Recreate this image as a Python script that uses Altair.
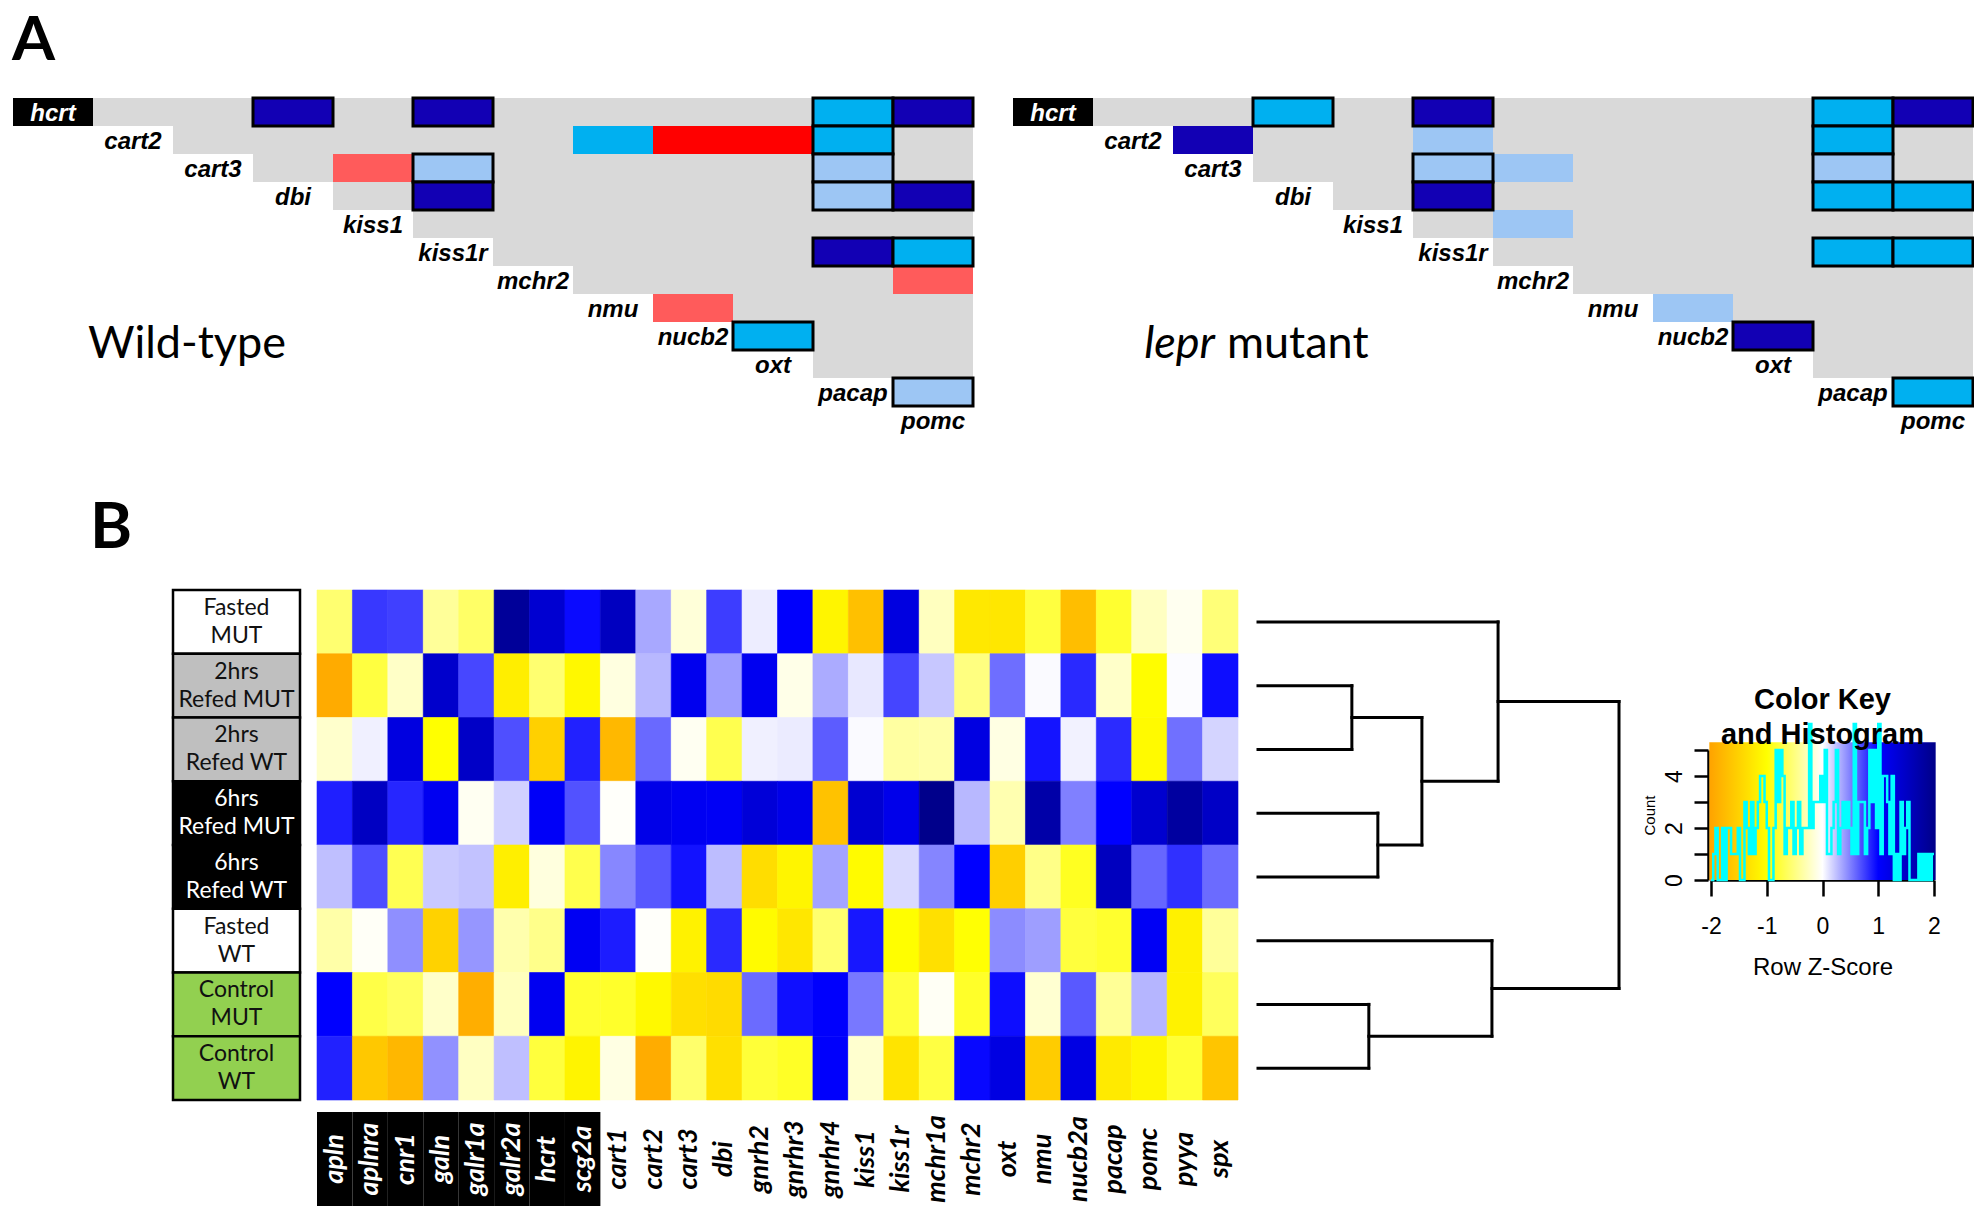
import altair as alt
import numpy as np
import pandas as pd

W, H = 1966, 1198

# ---------------- Panel A: correlation triangles ----------------
genes_a = ["hcrt", "cart2", "cart3", "dbi", "kiss1", "kiss1r", "mchr2",
           "nmu", "nucb2", "oxt", "pacap", "pomc"]

# (row gene, column gene, colour class, outlined)
wt_cells = [
    ("hcrt", "dbi", "dark", True), ("hcrt", "kiss1r", "dark", True),
    ("hcrt", "pacap", "cyan", True), ("hcrt", "pomc", "dark", True),
    ("cart2", "nmu", "cyan", False), ("cart2", "nucb2", "red", False),
    ("cart2", "oxt", "red", False), ("cart2", "pacap", "cyan", True),
    ("cart3", "kiss1", "lightred", False), ("cart3", "kiss1r", "light", True),
    ("cart3", "pacap", "light", True),
    ("dbi", "kiss1r", "dark", True), ("dbi", "pacap", "light", True),
    ("dbi", "pomc", "dark", True),
    ("kiss1r", "pacap", "dark", True), ("kiss1r", "pomc", "cyan", True),
    ("mchr2", "pomc", "lightred", False),
    ("nmu", "nucb2", "lightred", False),
    ("nucb2", "oxt", "cyan", True),
    ("pacap", "pomc", "light", True),
]
mut_cells = [
    ("hcrt", "dbi", "cyan", True), ("hcrt", "kiss1r", "dark", True),
    ("hcrt", "pacap", "cyan", True), ("hcrt", "pomc", "dark", True),
    ("cart2", "cart3", "dark", False), ("cart2", "kiss1r", "light", False),
    ("cart2", "pacap", "cyan", True),
    ("cart3", "kiss1r", "light", True), ("cart3", "mchr2", "light", False),
    ("cart3", "pacap", "light", True),
    ("dbi", "kiss1r", "dark", True), ("dbi", "pacap", "cyan", True),
    ("dbi", "pomc", "cyan", True),
    ("kiss1", "mchr2", "light", False),
    ("kiss1r", "pacap", "cyan", True), ("kiss1r", "pomc", "cyan", True),
    ("nmu", "nucb2", "light", False),
    ("nucb2", "oxt", "dark", True),
    ("pacap", "pomc", "cyan", True),
]
kind_domain = ["dark", "cyan", "light", "red", "lightred"]
kind_colors = ["#1200B4", "#00B0F0", "#9DC6F4", "#FF0000", "#FF5B5B"]

# ---------------- Panel B: heatmap ----------------
genes_b = ["apln", "aplnra", "cnr1", "galn", "galr1a", "galr2a", "hcrt", "scg2a",
           "cart1", "cart2", "cart3", "dbi", "gnrh2", "gnrhr3", "gnrhr4", "kiss1",
           "kiss1r", "mchr1a", "mchr2", "oxt", "nmu", "nucb2a", "pacap", "pomc",
           "pyya", "spx"]
highlighted_b = ["apln", "aplnra", "cnr1", "galn", "galr1a", "galr2a", "hcrt", "scg2a"]

conditions = ["Fasted MUT", "2hrs Refed MUT", "2hrs Refed WT", "6hrs Refed MUT",
              "6hrs Refed WT", "Fasted WT", "Control MUT", "Control WT"]
condition_text = ["Fasted\nMUT", "2hrs\nRefed MUT", "2hrs\nRefed WT", "6hrs\nRefed MUT",
                  "6hrs\nRefed WT", "Fasted\nWT", "Control\nMUT", "Control\nWT"]
condition_group = ["Fasted", "2hrs", "2hrs", "6hrs", "6hrs", "Fasted", "Control", "Control"]
group_domain = ["Fasted", "2hrs", "6hrs", "Control"]
group_fill = ["#FFFFFF", "#BFBFBF", "#000000", "#92D050"]

z_fasted_mut = [-0.56, 0.78, 0.75, -0.40, -0.60, 1.88, 1.40, 0.96, 1.54, 0.34, -0.15, 0.76, 0.07,
                1.03, -1.11, -1.70, 1.27, -0.25, -1.26, -1.27, -0.75, -1.72, -0.81, -0.24, -0.06, -0.53]
z_2h_mut = [-1.93, -0.75, -0.22, 1.44, 0.72, -1.19, -0.56, -1.08, -0.12, 0.28, 1.15, 0.38, 1.13,
            -0.09, 0.33, 0.09, 0.73, 0.22, -0.50, 0.57, 0.02, 0.84, -0.21, -1.02, 0.01, 0.95]
z_2h_wt = [-0.20, 0.06, 1.27, -1.00, 1.48, 0.69, -1.52, 0.87, -1.79, 0.59, -0.05, -0.69, 0.06,
           0.08, 0.64, 0.02, -0.37, -0.34, 1.26, -0.11, 0.92, 0.05, 0.83, -1.06, 0.56, 0.17]
z_6h_mut = [0.88, 1.53, 0.85, 1.12, -0.05, 0.18, 1.06, 0.68, -0.02, 1.20, 1.11, 1.09, 1.34,
            1.19, -1.68, 1.40, 1.18, 2.00, 0.28, -0.31, 1.75, 0.50, 1.00, 1.41, 1.82, 1.49]
z_6h_wt = [0.25, 0.70, -0.68, 0.21, 0.24, -1.18, -0.13, -0.70, 0.47, 0.66, 0.93, 0.26, -1.38,
           -1.11, 0.36, -1.05, 0.15, 0.48, 1.00, -1.53, -0.47, -0.87, 1.55, 0.60, 0.81, 0.58]
z_fasted_wt = [-0.34, -0.03, 0.44, -1.50, 0.41, -0.32, -0.46, 1.10, 0.89, -0.02, -1.14, 0.84, -1.04,
               -1.27, -0.57, 0.91, -1.01, -1.34, -0.99, 0.45, 0.38, -0.76, -0.82, 1.09, -1.16, -0.40]
z_control_mut = [1.01, -0.72, -0.63, -0.21, -1.90, -0.26, 1.12, -0.81, -0.83, -1.07, -1.36, -1.40, 0.58,
                 0.94, 1.02, 0.53, -0.77, -0.04, -0.84, 0.95, -0.18, 0.65, -0.41, 0.29, -1.15, -0.64]
z_control_wt = [0.87, -1.61, -1.80, 0.43, -0.24, 0.25, -0.76, -1.12, -0.11, -1.92, -0.58, -1.35, -0.78,
                -0.85, 1.03, -0.19, -1.30, -0.74, 0.97, 1.25, -1.57, 1.24, -1.23, -1.10, -0.79, -1.65]
z_rows = [z_fasted_mut, z_2h_mut, z_2h_wt, z_6h_mut, z_6h_wt, z_fasted_wt, z_control_mut, z_control_wt]

# dendrogram merges: (new node, child a, child b, merge height)
merges = [("N1", "L1", "L2", 2.60), ("N2", "L3", "L4", 3.32), ("N3", "N1", "N2", 4.54),
          ("N4", "L0", "N3", 6.65), ("N5", "L6", "L7", 3.07), ("N6", "L5", "N5", 6.48),
          ("N7", "N4", "N6", 10.0)]

heat_stops = [-2, -1, 0, 1, 2]
heat_colors = ["#FFA500", "#FFFF00", "#FFFFFF", "#0000FF", "#00008B"]
key_ticks_x = [-2, -1, 0, 1, 2]
key_ticks_y = [0, 1, 2, 3, 4, 5]

# ---------------- helpers ----------------
one = pd.DataFrame({"k": [0]})


def band(domain, lo, hi):
    return alt.Scale(type="band", domain=domain, range=[lo, hi], paddingInner=0, paddingOuter=0)


def lin(domain, lo, hi):
    return alt.Scale(type="linear", domain=domain, range=[lo, hi], nice=False, zero=False)


layers = []


def triangle(cells, x0):
    xs = band(genes_a, x0, x0 + 960)
    ys = band(genes_a, 90, 426)

    def X(f):
        return alt.X(f, type="nominal", scale=xs, axis=None)

    def Y(f):
        return alt.Y(f, type="nominal", scale=ys, axis=None)

    bg = pd.DataFrame([{"r": r, "c": c} for i, r in enumerate(genes_a) for c in genes_a[i + 1:]])
    cd = pd.DataFrame(cells, columns=["r", "c", "kind", "boxed"])
    lab = pd.DataFrame({"g": genes_a})
    ks = alt.Scale(domain=kind_domain, range=kind_colors)
    out = [
        alt.Chart(bg).mark_rect(fill="#D9D9D9").encode(x=X("c"), y=Y("r")),
        alt.Chart(cd).transform_filter("!datum.boxed").mark_rect().encode(
            x=X("c"), y=Y("r"), fill=alt.Fill("kind:N", scale=ks, legend=None)),
        alt.Chart(cd).transform_filter("datum.boxed").mark_rect(stroke="black", strokeWidth=3).encode(
            x=X("c"), y=Y("r"), fill=alt.Fill("kind:N", scale=ks, legend=None)),
        alt.Chart(lab).transform_filter("datum.g == 'hcrt'").mark_rect(fill="black").encode(
            x=X("g"), y=Y("g")),
        alt.Chart(lab).mark_text(font="Liberation Sans", fontSize=24, fontStyle="italic",
                                 fontWeight="bold", baseline="middle", dy=2).encode(
            x=X("g"), y=Y("g"), text="g:N",
            color=alt.condition("datum.g == 'hcrt'", alt.value("white"), alt.value("black"))),
    ]
    return out, xs, ys


wt_layers, wxs, wys = triangle(wt_cells, 5)
mut_layers, mxs, mys = triangle(mut_cells, 1005)
layers += wt_layers + mut_layers

layers.append(alt.Chart(one).mark_text(text="Wild-type", font="Lato", fontSize=45, align="center",
                                        baseline="alphabetic", dx=-26, dy=22).encode(
    x=alt.XDatum("cart3", type="nominal", scale=wxs, axis=None),
    y=alt.YDatum("nucb2", type="nominal", scale=wys, axis=None)))
layers.append(alt.Chart(one).mark_text(text="lepr", font="Lato", fontSize=45, fontStyle="italic",
                                        align="right", baseline="alphabetic", dx=-78, dy=22).encode(
    x=alt.XDatum("dbi", type="nominal", scale=mxs, axis=None),
    y=alt.YDatum("nucb2", type="nominal", scale=mys, axis=None)))
layers.append(alt.Chart(one).mark_text(text="mutant", font="Lato", fontSize=45, align="left",
                                        baseline="alphabetic", dx=-66, dy=22).encode(
    x=alt.XDatum("dbi", type="nominal", scale=mxs, axis=None),
    y=alt.YDatum("nucb2", type="nominal", scale=mys, axis=None)))

# panel letters
layers.append(alt.Chart(one).mark_text(text="A", font="Lato", fontWeight="bold", fontSize=62,
                                        align="left", baseline="top").encode(
    x=alt.value(4), y=alt.value(3)))
layers.append(alt.Chart(one).mark_text(text="B", font="Lato", fontWeight="bold", fontSize=64,
                                        align="left", baseline="alphabetic").encode(
    x=alt.value(82), y=alt.value(540)))

# ---------------- Panel B layers ----------------
hx = band(genes_b, 309, 1230)
hy = band(conditions, 582, 1092)
heat_scale = alt.Scale(domain=heat_stops, range=heat_colors, interpolate="rgb", clamp=True)

hm = pd.DataFrame([{"cond": c, "gene": g, "z": z}
                   for c, vals in zip(conditions, z_rows) for g, z in zip(genes_b, vals)])
layers.append(alt.Chart(hm).mark_rect(strokeWidth=0.6).encode(
    x=alt.X("gene:N", scale=hx, axis=None),
    y=alt.Y("cond:N", scale=hy, axis=None),
    fill=alt.Fill("z:Q", scale=heat_scale, legend=None),
    stroke=alt.Stroke("z:Q", scale=heat_scale, legend=None)))

# row label boxes
rl = pd.DataFrame({"cond": conditions, "text": condition_text, "group": condition_group})
box_x = band(["box"], 165, 292)
layers.append(alt.Chart(rl).mark_rect(stroke="black", strokeWidth=2.5).encode(
    x=alt.XDatum("box", type="nominal", scale=box_x, axis=None),
    y=alt.Y("cond:N", scale=hy, axis=None),
    fill=alt.Fill("group:N", scale=alt.Scale(domain=group_domain, range=group_fill), legend=None)))
layers.append(alt.Chart(rl).mark_text(font="Lato", fontSize=23, lineBreak="\n", lineHeight=28,
                                      baseline="middle", align="center", dy=-14).encode(
    x=alt.XDatum("box", type="nominal", scale=box_x, axis=None),
    y=alt.Y("cond:N", scale=hy, axis=None),
    text="text:N",
    color=alt.condition("datum.group == '6hrs'", alt.value("white"), alt.value("#111111"))))

# column labels
cl = pd.DataFrame({"gene": genes_b, "hl": [g in highlighted_b for g in genes_b]})
strip_y = band(["labels"], 1104, 1198)
layers.append(alt.Chart(cl).transform_filter("datum.hl").mark_rect(fill="black").encode(
    x=alt.X("gene:N", scale=hx, axis=None),
    y=alt.YDatum("labels", type="nominal", scale=strip_y, axis=None)))
layers.append(alt.Chart(cl).mark_text(font="Lato", fontSize=27, fontStyle="italic", fontWeight="bold",
                                      angle=270, align="center", baseline="middle").encode(
    x=alt.X("gene:N", scale=hx, axis=None),
    y=alt.YDatum("labels", type="nominal", scale=strip_y, axis=None),
    text="gene:N",
    color=alt.condition("datum.hl", alt.value("white"), alt.value("black"))))

# dendrogram
nodes = {f"L{i}": (0.0, i + 0.5) for i in range(len(conditions))}
segs = []
for name, a, b, h in merges:
    ha, ya = nodes[a]
    hb, yb = nodes[b]
    segs.append({"h1": ha, "y1": ya, "h2": h, "y2": ya})
    segs.append({"h1": hb, "y1": yb, "h2": h, "y2": yb})
    segs.append({"h1": h, "y1": ya, "h2": h, "y2": yb})
    nodes[name] = (h, (ya + yb) / 2)
dseg = pd.DataFrame(segs)
dxs = lin([0, 10], 1250, 1611)
dys = lin([0, len(conditions)], 582, 1092)
layers.append(alt.Chart(dseg).mark_rule(color="black", strokeWidth=3, strokeCap="square").encode(
    x=alt.X("h1:Q", scale=dxs, axis=None), x2="h2:Q",
    y=alt.Y("y1:Q", scale=dys, axis=None), y2="y2:Q"))

# colour key with histogram
kx = lin([-2, 2], 1703, 1926)
ky = lin([0, 5], 872, 742)
lo_k, hi_k = -2.03, 2.03
stops = [alt.GradientStop(color=c, offset=(s - lo_k) / (hi_k - lo_k)) for s, c in zip(heat_stops, heat_colors)]
layers.append(alt.Chart(one).mark_rect(
    fill=alt.Gradient(gradient="linear", stops=stops, x1=0, x2=1, y1=0, y2=0)).encode(
    x=alt.XDatum(lo_k, type="quantitative", scale=kx, axis=None), x2=alt.X2Datum(hi_k),
    y=alt.YDatum(0, type="quantitative", scale=ky, axis=None), y2=alt.Y2Datum(5.3)))

all_z = np.clip(np.array(z_rows, dtype=float).ravel(), -2, 2)
counts, edges = np.histogram(all_z, bins=100, range=(-2, 2))
hist = pd.DataFrame({"edge": edges, "count": np.append(counts, counts[-1])})
layers.append(alt.Chart(hist).mark_line(interpolate="step-after", color="#00FFFF", strokeWidth=2.5).encode(
    x=alt.X("edge:Q", scale=kx, axis=alt.Axis(
        orient="bottom", offset=872 - H, values=key_ticks_x, tickSize=16, tickWidth=2.5,
        tickColor="black", domainColor="black", domainWidth=2.5, grid=False, labelFlush=False,
        labelExpr="datum.value < 0 ? '-' + abs(datum.value) : '' + datum.value",
        labelFont="Liberation Sans", labelFontSize=23, labelColor="black", labelPadding=19,
        title="Row Z-Score", titleFont="Liberation Sans", titleFontSize=24, titleFontWeight="normal",
        titleColor="black", titlePadding=17)),
    y=alt.Y("count:Q", scale=ky, axis=alt.Axis(
        orient="left", offset=-1700, values=key_ticks_y, tickSize=14, tickWidth=2.5,
        tickColor="black", domainColor="black", domainWidth=2.5, grid=False, labelFlush=False,
        labelExpr="datum.value % 2 == 0 ? datum.label : ''", labelAngle=270,
        labelAlign="center", labelBaseline="bottom", labelPadding=8,
        labelFont="Liberation Sans", labelFontSize=23, labelColor="black",
        title="Count", titleFont="Liberation Sans", titleFontSize=15, titleFontWeight="normal",
        titleColor="black", titleAngle=270, titlePadding=6))))

layers.append(alt.Chart(one).mark_text(text=["Color Key", "and Histogram"], font="Liberation Sans",
                                        fontWeight="bold", fontSize=29, lineHeight=35,
                                        align="center", baseline="middle").encode(
    x=alt.XDatum(0, type="quantitative", scale=kx, axis=None), y=alt.value(692)))

chart = alt.layer(*layers).resolve_scale(
    x="independent", y="independent", fill="independent", stroke="independent", color="independent"
).properties(width=W, height=H, autosize=alt.AutoSizeParams(type="none"), padding=0,
             background="white"
).configure_view(strokeWidth=0, stroke="transparent")

chart.save("out.html", embed_options={"renderer": "svg", "actions": False})
